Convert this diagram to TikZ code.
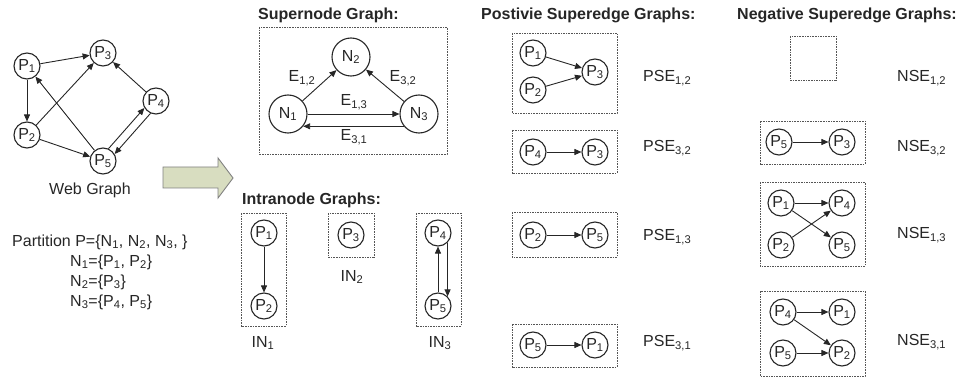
\documentclass[tikz,border=0pt]{standalone}
\usepackage{fontspec}
\setmainfont{Liberation Sans}
\usetikzlibrary{arrows.meta}
\definecolor{ink}{HTML}{262626}
\definecolor{boxgray}{HTML}{555555}
\definecolor{arrfill}{RGB}{216,221,192}
\definecolor{arredge}{HTML}{808080}
\newcommand{\sbs}[1]{\textsubscript{#1}}
\begin{document}
\begin{tikzpicture}[x=1pt,y=-1pt,
    font=\fontsize{16}{18}\selectfont, text=ink,
    pnode/.style={circle,draw=ink,line width=1.1pt,minimum size=26pt,inner sep=0pt},
    nnode/.style={circle,draw=ink,line width=1.1pt,minimum size=38pt,inner sep=0pt},
    link/.style={-{Triangle[length=7pt,width=6pt]},draw=ink,line width=0.9pt},
    sbox/.style={draw=boxgray,line width=0.9pt,dash pattern=on 1.6pt off 1pt},
    heading/.style={font=\fontsize{16}{18}\selectfont\bfseries,anchor=west,inner sep=0pt},
    lbl/.style={inner sep=0pt}]
    \useasboundingbox (0,0) rectangle (967,377);

    \node[pnode] (w1) at (27,66) {P\sbs{1}};
    \node[pnode] (w3) at (103,53) {P\sbs{3}};
    \node[pnode] (w4) at (156,101) {P\sbs{4}};
    \node[pnode] (w2) at (27,135) {P\sbs{2}};
    \node[pnode] (w5) at (103,161) {P\sbs{5}};
    \node[lbl] (wlabel) at (90,190) {Web Graph};

    \draw[link] (w1) -- (w3);
    \draw[link] (w1) -- (w2);
    \draw[link] (w2) -- (w3);
    \draw[link] (w2) -- (w5);
    \draw[link] (w5) -- (w1);
    \draw[link] (w4) -- (w3);
    \draw[link] (w5.66) -- (w4.211);
    \draw[link] (w4.246) -- (w5.31);

    \draw[arredge,fill=arrfill,line width=0.9pt] (163,167) -- (218,167) -- (218,158)
        -- (233,178) -- (218,198) -- (218,188) -- (163,188) -- cycle;

    \node[lbl,anchor=west] (part) at (12,242) {Partition P=\{N\sbs{1}, N\sbs{2}, N\sbs{3}, \}};
    \node[lbl,anchor=west] (set1) at (70,262) {N\sbs{1}=\{P\sbs{1}, P\sbs{2}\}};
    \node[lbl,anchor=west] (set2) at (70,282) {N\sbs{2}=\{P\sbs{3}\}};
    \node[lbl,anchor=west] (set3) at (70,302) {N\sbs{3}=\{P\sbs{4}, P\sbs{5}\}};

    \node[heading] (hsuper) at (258,15) {Supernode Graph:};
    \draw[sbox] (259,27) rectangle (447,154);
    \node[nnode] (n2) at (351,57) {N\sbs{2}};
    \node[nnode] (n1) at (288,114) {N\sbs{1}};
    \node[nnode] (n3) at (419,114) {N\sbs{3}};
    \draw[link] (n1) -- (n2);
    \draw[link] (n3) -- (n2);
    \draw[link] (n1) -- (n3);
    \draw[link] (n3.219) -- (n1.-39);
    \node[lbl] (e12) at (302,78) {E\sbs{1,2}};
    \node[lbl] (e32) at (403,78) {E\sbs{3,2}};
    \node[lbl] (e13) at (354,102) {E\sbs{1,3}};
    \node[lbl] (e31) at (354,137) {E\sbs{3,1}};

    \node[heading] (hintra) at (242,200) {Intranode Graphs:};
    \draw[sbox] (241,213) rectangle (286,326);
    \node[pnode] (i1) at (264,233) {P\sbs{1}};
    \node[pnode] (i2) at (264,306) {P\sbs{2}};
    \draw[link] (i1) -- (i2);
    \node[lbl] (in1) at (263,343) {IN\sbs{1}};
    \draw[sbox] (328,213) rectangle (374,257);
    \node[pnode] (i3) at (351,235) {P\sbs{3}};
    \node[lbl] (in2) at (352,277) {IN\sbs{2}};
    \draw[sbox] (416,213) rectangle (461,326);
    \node[pnode] (i4) at (438,233) {P\sbs{4}};
    \node[pnode] (i5) at (438,306) {P\sbs{5}};
    \draw[link] (i5) -- (i4);
    \draw[link] (i4.-45) -- (i5.45);
    \node[lbl] (in3) at (440,343) {IN\sbs{3}};

    \node[heading] (hpos) at (481,15) {Postivie Superedge Graphs:};
    \draw[sbox] (512,33) rectangle (617,113);
    \node[pnode] (pa1) at (533,53) {P\sbs{1}};
    \node[pnode] (pa2) at (533,90) {P\sbs{2}};
    \node[pnode] (pa3) at (595,72) {P\sbs{3}};
    \draw[link] (pa1) -- (pa3);
    \draw[link] (pa2) -- (pa3);
    \node[lbl,anchor=west] (pse12) at (643,78) {PSE\sbs{1,2}};
    \draw[sbox] (512,130) rectangle (617,173);
    \node[pnode] (pb4) at (533,152) {P\sbs{4}};
    \node[pnode] (pb3) at (595,152) {P\sbs{3}};
    \draw[link] (pb4) -- (pb3);
    \node[lbl,anchor=west] (pse32) at (643,148) {PSE\sbs{3,2}};
    \draw[sbox] (512,212) rectangle (617,257);
    \node[pnode] (pc2) at (533,235) {P\sbs{2}};
    \node[pnode] (pc5) at (595,235) {P\sbs{5}};
    \draw[link] (pc2) -- (pc5);
    \node[lbl,anchor=west] (pse13) at (643,237) {PSE\sbs{1,3}};
    \draw[sbox] (512,324) rectangle (617,367);
    \node[pnode] (pd5) at (533,345) {P\sbs{5}};
    \node[pnode] (pd1) at (595,345) {P\sbs{1}};
    \draw[link] (pd5) -- (pd1);
    \node[lbl,anchor=west] (pse31) at (643,343) {PSE\sbs{3,1}};

    \node[heading] (hneg) at (737,15) {Negative Superedge Graphs:};
    \draw[sbox] (790,36) rectangle (836,80);
    \node[lbl,anchor=west] (nse12) at (897,78) {NSE\sbs{1,2}};
    \draw[sbox] (760,121) rectangle (865,164);
    \node[pnode] (ne5) at (779,142) {P\sbs{5}};
    \node[pnode] (ne3) at (842,142) {P\sbs{3}};
    \draw[link] (ne5) -- (ne3);
    \node[lbl,anchor=west] (nse32) at (897,148) {NSE\sbs{3,2}};
    \draw[sbox] (760,182) rectangle (865,266);
    \node[pnode] (nf1) at (781,203) {P\sbs{1}};
    \node[pnode] (nf4) at (842,203) {P\sbs{4}};
    \node[pnode] (nf2) at (781,245) {P\sbs{2}};
    \node[pnode] (nf5) at (842,245) {P\sbs{5}};
    \draw[link] (nf1) -- (nf4);
    \draw[link] (nf1) -- (nf5);
    \draw[link] (nf2) -- (nf4);
    \node[lbl,anchor=west] (nse13) at (897,235) {NSE\sbs{1,3}};
    \draw[sbox] (760,291) rectangle (865,376);
    \node[pnode] (ng4) at (783,312) {P\sbs{4}};
    \node[pnode] (ng1) at (842,312) {P\sbs{1}};
    \node[pnode] (ng5) at (783,353) {P\sbs{5}};
    \node[pnode] (ng2) at (842,353) {P\sbs{2}};
    \draw[link] (ng4) -- (ng1);
    \draw[link] (ng4) -- (ng2);
    \draw[link] (ng5) -- (ng2);
    \node[lbl,anchor=west] (nse31) at (897,342) {NSE\sbs{3,1}};
\end{tikzpicture}
\end{document}
